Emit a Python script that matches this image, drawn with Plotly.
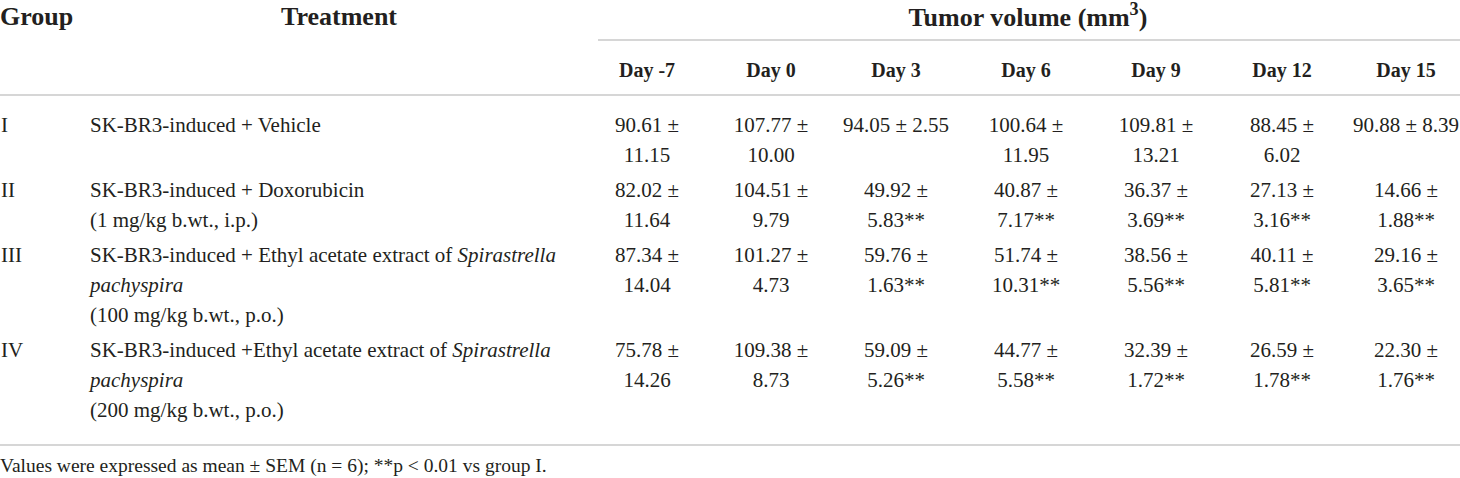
import plotly.graph_objects as go

# table content
groups = ["I", "II", "III", "IV"]
treatments = [
    ["SK-BR3-induced + Vehicle"],
    ["SK-BR3-induced + Doxorubicin", "(1 mg/kg b.wt., i.p.)"],
    ["SK-BR3-induced + Ethyl acetate extract of <i>Spirastrella</i>", "<i>pachyspira</i>", "(100 mg/kg b.wt., p.o.)"],
    ["SK-BR3-induced +Ethyl acetate extract of <i>Spirastrella</i>", "<i>pachyspira</i>", "(200 mg/kg b.wt., p.o.)"],
]
days = ["Day -7", "Day 0", "Day 3", "Day 6", "Day 9", "Day 12", "Day 15"]

means = [
    [90.61, 107.77, 94.05, 100.64, 109.81, 88.45, 90.88],
    [82.02, 104.51, 49.92, 40.87, 36.37, 27.13, 14.66],
    [87.34, 101.27, 59.76, 51.74, 38.56, 40.11, 29.16],
    [75.78, 109.38, 59.09, 44.77, 32.39, 26.59, 22.30],
]
sems = [
    [11.15, 10.00, 2.55, 11.95, 13.21, 6.02, 8.39],
    [11.64, 9.79, 5.83, 7.17, 3.69, 3.16, 1.88],
    [14.04, 4.73, 1.63, 10.31, 5.56, 5.81, 3.65],
    [14.26, 8.73, 5.26, 5.58, 1.72, 1.78, 1.76],
]
# significance vs group I
signif = [
    [False] * 7,
    [False, False, True, True, True, True, True],
    [False, False, True, True, True, True, True],
    [False, False, True, True, True, True, True],
]
footnote = "Values were expressed as mean ± SEM (n = 6); **p < 0.01 vs group I."

# layout constants
W, H = 1460, 478
FONT = "Liberation Serif"
FS = 21
day_x = [647, 771, 896, 1026, 1156, 1282, 1406]
row_y = [127, 192, 257, 352]
line_h = 30
one_line = {(0, 2), (0, 6)}

left_x, left_y, left_t = [], [], []
num_x, num_y, num_t = [], [], []

for i, g in enumerate(groups):
    left_x.append(1)
    left_y.append(row_y[i])
    left_t.append(g)
    for k, t in enumerate(treatments[i]):
        left_x.append(90)
        left_y.append(row_y[i] + k * line_h)
        left_t.append(t)
    for j in range(len(days)):
        m = f"{means[i][j]:.2f}"
        s = f"{sems[i][j]:.2f}" + ("**" if signif[i][j] else "")
        if (i, j) in one_line:
            num_x.append(day_x[j]); num_y.append(row_y[i]); num_t.append(f"{m} ± {s}")
        else:
            num_x.append(day_x[j]); num_y.append(row_y[i]); num_t.append(f"{m} ±")
            num_x.append(day_x[j]); num_y.append(row_y[i] + line_h); num_t.append(s)

ink = "#231f20"
fig = go.Figure()

# header
fig.add_trace(go.Scatter(
    x=[0], y=[18], text=["<b>Group</b>"], mode="text", textposition="middle right",
    textfont=dict(family=FONT, size=26, color=ink), hoverinfo="skip", cliponaxis=False))
fig.add_trace(go.Scatter(
    x=[339, 1028], y=[18, 19], text=["<b>Treatment</b>", "<b>Tumor volume (mm<sup>3</sup>)</b>"],
    mode="text", textposition="middle center",
    textfont=dict(family=FONT, size=26, color=ink), hoverinfo="skip", cliponaxis=False))
fig.add_trace(go.Scatter(
    x=day_x, y=[72] * len(days), text=[f"<b>{d}</b>" for d in days],
    mode="text", textposition="middle center",
    textfont=dict(family=FONT, size=20, color=ink), hoverinfo="skip", cliponaxis=False))

# body
fig.add_trace(go.Scatter(
    x=left_x, y=left_y, text=left_t, mode="text", textposition="middle right",
    textfont=dict(family=FONT, size=FS, color=ink), hoverinfo="skip", cliponaxis=False))
fig.add_trace(go.Scatter(
    x=num_x, y=num_y, text=num_t, mode="text", textposition="middle center",
    textfont=dict(family=FONT, size=FS, color=ink), hoverinfo="skip", cliponaxis=False))
fig.add_trace(go.Scatter(
    x=[0], y=[467], text=[footnote], mode="text", textposition="middle right",
    textfont=dict(family=FONT, size=19.5, color=ink), hoverinfo="skip", cliponaxis=False))

# horizontal rules
rule = dict(color="#c8c8c8", width=1.3)
fig.add_shape(type="line", x0=598, x1=W, y0=40, y1=40, line=rule, xref="x", yref="y")
fig.add_shape(type="line", x0=0, x1=W, y0=95, y1=95, line=rule, xref="x", yref="y")
fig.add_shape(type="line", x0=0, x1=W, y0=445, y1=445, line=rule, xref="x", yref="y")

fig.update_layout(
    width=W, height=H, margin=dict(l=0, r=0, t=0, b=0),
    paper_bgcolor="white", plot_bgcolor="white", showlegend=False,
    xaxis=dict(range=[0, W], visible=False, fixedrange=True),
    yaxis=dict(range=[H, 0], visible=False, fixedrange=True),
)

fig.write_html("out.html", config={"displayModeBar": False},
               post_script="document.body.style.margin='0';document.body.style.overflow='hidden';")
